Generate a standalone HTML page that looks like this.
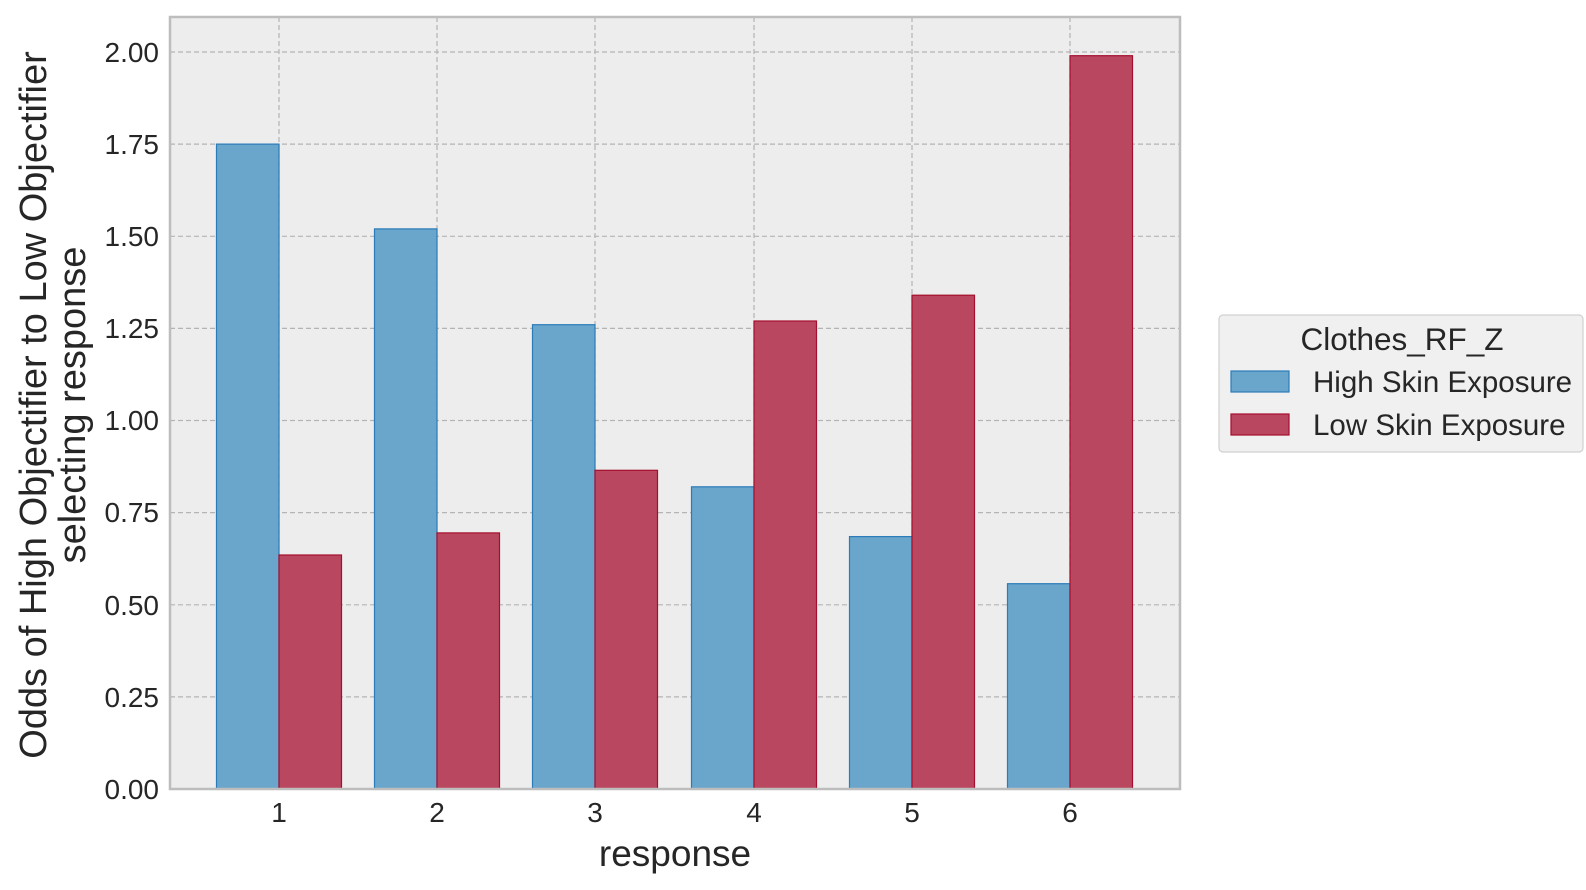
<!DOCTYPE html>
<html><head><meta charset="utf-8"><style>
html,body{margin:0;padding:0;background:#fff;}
svg{display:block;font-family:"Liberation Sans",Arial,sans-serif;}
</style></head><body>
<svg width="1586" height="890" viewBox="0 0 1586 890" xmlns="http://www.w3.org/2000/svg">
<rect x="170" y="17" width="1010" height="772" fill="#ededed"/>
<g stroke="#b4b4b4" stroke-width="1.2" stroke-dasharray="5,3">
<line x1="170" x2="1180" y1="52" y2="52"/>
<line x1="170" x2="1180" y1="144.1" y2="144.1"/>
<line x1="170" x2="1180" y1="236.3" y2="236.3"/>
<line x1="170" x2="1180" y1="328.4" y2="328.4"/>
<line x1="170" x2="1180" y1="420.5" y2="420.5"/>
<line x1="170" x2="1180" y1="512.6" y2="512.6"/>
<line x1="170" x2="1180" y1="604.8" y2="604.8"/>
<line x1="170" x2="1180" y1="696.9" y2="696.9"/>
<line x1="279" x2="279" y1="17" y2="789"/>
<line x1="437" x2="437" y1="17" y2="789"/>
<line x1="595" x2="595" y1="17" y2="789"/>
<line x1="754" x2="754" y1="17" y2="789"/>
<line x1="912" x2="912" y1="17" y2="789"/>
<line x1="1070" x2="1070" y1="17" y2="789"/>
</g>
<g fill="#6aa6cb" stroke="#2b7bb9" stroke-width="1.2">
<rect x="216.5" y="144.1" width="62.5" height="644.9"/>
<rect x="374.5" y="228.9" width="62.5" height="560.1"/>
<rect x="532.5" y="324.7" width="62.5" height="464.3"/>
<rect x="691.5" y="486.8" width="62.5" height="302.2"/>
<rect x="849.5" y="536.6" width="62.5" height="252.4"/>
<rect x="1007.5" y="583.7" width="62.5" height="205.3"/>
</g>
<g fill="#b9475f" stroke="#a50f2d" stroke-width="1.2">
<rect x="279" y="555" width="62.5" height="234"/>
<rect x="437" y="532.9" width="62.5" height="256.1"/>
<rect x="595" y="470.3" width="62.5" height="318.7"/>
<rect x="754" y="321" width="62.5" height="468"/>
<rect x="912" y="295.2" width="62.5" height="493.8"/>
<rect x="1070" y="55.7" width="62.5" height="733.3"/>
</g>
<rect x="170" y="17" width="1010" height="772" fill="none" stroke="#bdbdbd" stroke-width="2.5"/>
<g font-size="28" fill="#262626" text-anchor="end">
<text x="159" y="62">2.00</text>
<text x="159" y="154">1.75</text>
<text x="159" y="246">1.50</text>
<text x="159" y="338">1.25</text>
<text x="159" y="430">1.00</text>
<text x="159" y="522">0.75</text>
<text x="159" y="615">0.50</text>
<text x="159" y="707">0.25</text>
<text x="159" y="799">0.00</text>
</g>
<g font-size="28" fill="#262626" text-anchor="middle">
<text x="279" y="822">1</text>
<text x="437" y="822">2</text>
<text x="595" y="822">3</text>
<text x="754" y="822">4</text>
<text x="912" y="822">5</text>
<text x="1070" y="822">6</text>
</g>
<text x="675" y="866" font-size="37" fill="#262626" text-anchor="middle">response</text>
<g font-size="38" fill="#262626" text-anchor="middle">
<text transform="translate(46,405) rotate(-90)">Odds of High Objectifier to Low Objectifier</text>
<text transform="translate(85,405) rotate(-90)">selecting response</text>
</g>
<rect x="1219" y="315" width="364" height="137" rx="4" fill="#f0f0f0" stroke="#d0d0d0" stroke-width="1.2"/>
<text x="1402" y="350" font-size="31.5" fill="#262626" text-anchor="middle">Clothes_RF_Z</text>
<rect x="1231" y="371" width="58" height="21" fill="#6aa6cb" stroke="#2b7bb9" stroke-width="1.2"/>
<rect x="1231" y="414" width="58" height="21" fill="#b9475f" stroke="#a50f2d" stroke-width="1.2"/>
<g font-size="29.5" fill="#262626">
<text x="1313" y="392">High Skin Exposure</text>
<text x="1313" y="435">Low Skin Exposure</text>
</g>
</svg>
</body></html>
